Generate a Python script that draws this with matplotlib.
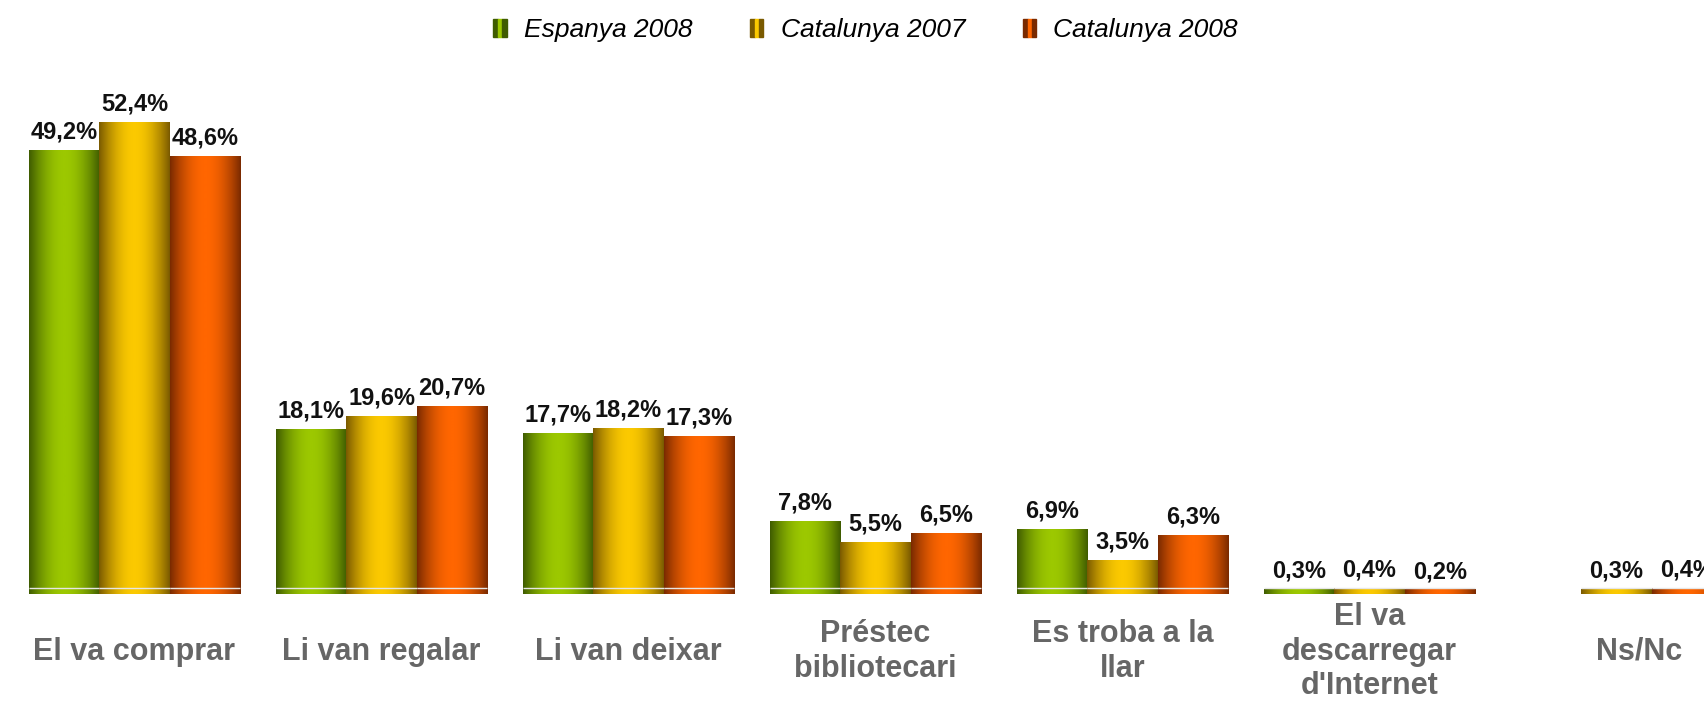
import numpy as np
import matplotlib.pyplot as plt
from matplotlib.colors import LinearSegmentedColormap
from matplotlib.patches import Patch
from matplotlib.legend_handler import HandlerTuple

# Chart data
categories = ["El va comprar", "Li van regalar", "Li van deixar",
              "Préstec\nbibliotecari", "Es troba a la\nllar",
              "El va\ndescarregar\nd'Internet", "Ns/Nc"]
series_names = ["Espanya 2008", "Catalunya 2007", "Catalunya 2008"]
espanya_2008 = [49.2, 18.1, 17.7, 7.8, 6.9, 0.3, np.nan]
catalunya_2007 = [52.4, 19.6, 18.2, 5.5, 3.5, 0.4, 0.3]
catalunya_2008 = [48.6, 20.7, 17.3, 6.5, 6.3, 0.2, 0.4]

# dark edge / bright centre of each bar gradient
dark_colors = ["#3f5c00", "#7a5a00", "#7a2a00"]
bright_colors = ["#9cc800", "#fbc900", "#ff6600"]

BASE = -0.25  # bars start a little below zero, like the original

fig = plt.figure(figsize=(17.04, 7.04), dpi=100)
ax = fig.add_axes([0, 0.15625, 1, 0.73])

x = np.arange(len(categories))
width = 0.2846
t = np.linspace(0, 1, 80)
profile = np.sin(np.pi * t) ** 0.9
grad = profile[np.newaxis, :]

all_series = [espanya_2008, catalunya_2007, catalunya_2008]
for j, vals in enumerate(all_series):
    cmap = LinearSegmentedColormap.from_list("g%d" % j, [dark_colors[j], bright_colors[j]])
    bars = ax.bar(x + (j - 1) * width, vals, width, bottom=0, facecolor="none", edgecolor="none")
    for rect, v in zip(bars, vals):
        if np.isnan(v):
            continue
        x0 = rect.get_x()
        x1 = x0 + rect.get_width()
        ax.imshow(grad, extent=(x0, x1, BASE, v), aspect="auto",
                  cmap=cmap, vmin=0, vmax=1, zorder=2, interpolation="bilinear")
        # faint light line across the bar base
        ax.hlines(0.45, x0, x1, color="#e6e6e6", lw=1, zorder=3)
        ax.annotate(("%.1f%%" % v).replace(".", ","), (x0 + rect.get_width() / 2, v),
                    xytext=(0, 5), textcoords="offset points", ha="center", va="bottom",
                    fontsize=17, fontweight="bold", family="Liberation Sans", color="#111111")

ax.set_xlim(-0.5445, 6.354)
ax.set_ylim(BASE, 57.1)
ax.set_yticks([])
tick_pos = x.astype(float)
tick_pos[-1] += 0.09  # the Ns/Nc label sits off-centre in the original
ax.set_xticks(tick_pos)
ax.set_xticklabels(categories, fontsize=22, fontweight="bold", family="Liberation Sans",
                   color="#666666", va="center", linespacing=1.2)
ax.tick_params(axis="x", length=0, pad=41.5)
for s in ax.spines.values():
    s.set_visible(False)

# legend with striped squares
handles = [(Patch(color=dark_colors[j]), Patch(color=bright_colors[j]), Patch(color=dark_colors[j]))
           for j in range(3)]
fig.legend(handles, series_names, handler_map={tuple: HandlerTuple(ndivide=None, pad=0)},
           loc="center", bbox_to_anchor=(0.508, 0.957), ncol=3, frameon=False,
           prop={"family": "Liberation Sans", "style": "italic", "size": 19},
           handlelength=0.5, handleheight=0.65, handletextpad=0.65, columnspacing=2.2)

fig.savefig("out.png", dpi=100)
